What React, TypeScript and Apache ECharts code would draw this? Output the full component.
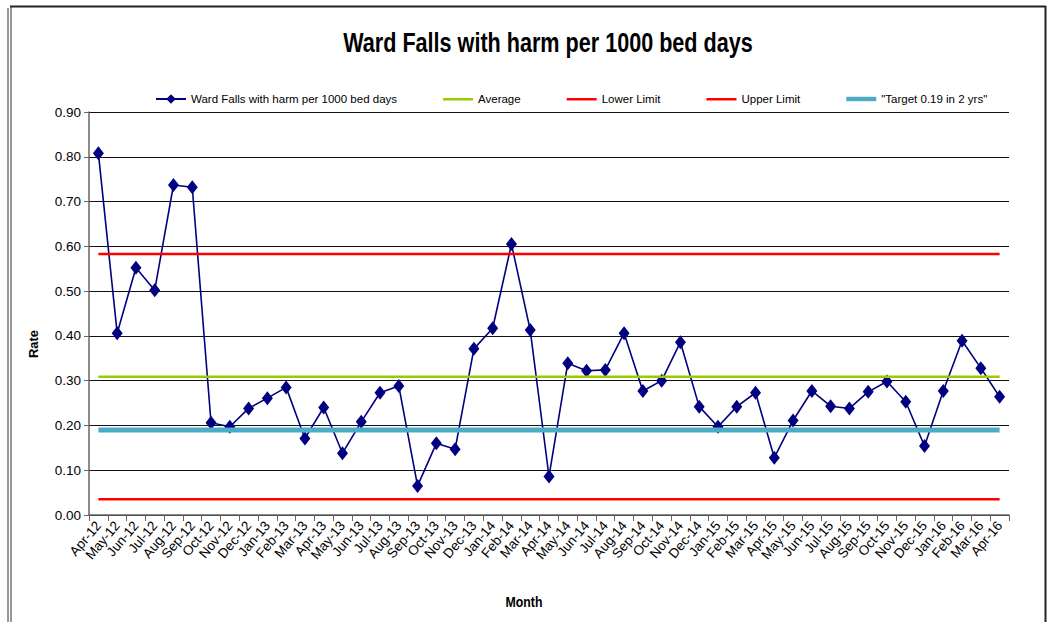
import React, { useEffect, useRef } from "react";
import * as echarts from "echarts";

const months = [
  "Apr-12","May-12","Jun-12","Jul-12","Aug-12","Sep-12","Oct-12","Nov-12","Dec-12",
  "Jan-13","Feb-13","Mar-13","Apr-13","May-13","Jun-13","Jul-13","Aug-13","Sep-13","Oct-13","Nov-13","Dec-13",
  "Jan-14","Feb-14","Mar-14","Apr-14","May-14","Jun-14","Jul-14","Aug-14","Sep-14","Oct-14","Nov-14","Dec-14",
  "Jan-15","Feb-15","Mar-15","Apr-15","May-15","Jun-15","Jul-15","Aug-15","Sep-15","Oct-15","Nov-15","Dec-15",
  "Jan-16","Feb-16","Mar-16","Apr-16",
];

const fallsRate = [
  0.808, 0.406, 0.552, 0.502, 0.737, 0.732, 0.206, 0.197, 0.238,
  0.261, 0.285, 0.171, 0.240, 0.138, 0.208, 0.273, 0.288, 0.065, 0.160, 0.147, 0.371,
  0.417, 0.605, 0.413, 0.086, 0.339, 0.322, 0.324, 0.406, 0.277, 0.300, 0.386, 0.242,
  0.197, 0.242, 0.273, 0.128, 0.211, 0.277, 0.243, 0.238, 0.275, 0.298, 0.253, 0.154,
  0.277, 0.389, 0.328, 0.264,
];

const averageValue = 0.309;
const lowerLimitValue = 0.035;
const upperLimitValue = 0.583;
const targetValue = 0.19;

const yTicks = { min: 0, max: 0.9, interval: 0.1 };

const SANS = "'Liberation Sans', Arial, sans-serif";

const SERIES_NAMES = {
  falls: "Ward Falls with harm per 1000 bed days",
  avg: "Average",
  lower: "Lower Limit",
  upper: "Upper Limit",
  target: '"Target 0.19 in 2 yrs"',
};

const thinBar = "path://M0,0 M0,5 L30,5 L30,7.5 L0,7.5 Z M30,12";
const thickBar = "path://M0,0 M0,3.5 L34,3.5 L34,8.5 L0,8.5 Z M34,12";

export default function App() {
  const ref = useRef<HTMLDivElement>(null);

  useEffect(() => {
    document.body.style.margin = "0";
    const chart = echarts.init(ref.current!, null, { renderer: "svg" });
    const flat = (v: number) => months.map(() => v);
    chart.setOption({
      animation: false,
      backgroundColor: "#ffffff",
      legend: {
        top: 88,
        left: 150,
        itemWidth: 30,
        itemHeight: 12,
        itemGap: 46,
        textStyle: { fontFamily: SANS, fontSize: 11.5, color: "#000" },
        data: [
          { name: SERIES_NAMES.falls },
          { name: SERIES_NAMES.avg, icon: thinBar },
          { name: SERIES_NAMES.lower, icon: thinBar },
          { name: SERIES_NAMES.upper, icon: thinBar },
          { name: SERIES_NAMES.target, icon: thickBar, itemWidth: 34 },
        ],
      },
      grid: { left: 89, right: 44, top: 112, bottom: 107, containLabel: false },
      xAxis: {
        type: "category",
        data: months,
        boundaryGap: true,
        axisLine: { lineStyle: { color: "#666", width: 1.5 } },
        axisTick: { show: true, interval: 0, length: 6, lineStyle: { color: "#666" } },
        axisLabel: {
          interval: 0,
          rotate: 50,
          fontFamily: SANS,
          fontSize: 13.5,
          color: "#000",
          margin: 8,
        },
        splitLine: { show: false },
      },
      yAxis: {
        type: "value",
        min: yTicks.min,
        max: yTicks.max,
        interval: yTicks.interval,
        axisLine: { show: true, lineStyle: { color: "#666", width: 1.5 } },
        axisTick: { show: true, length: 5, lineStyle: { color: "#666" } },
        axisLabel: {
          formatter: (v: number) => v.toFixed(2),
          fontFamily: SANS,
          fontSize: 13.5,
          color: "#000",
          margin: 8,
        },
        splitLine: { show: true, lineStyle: { color: "#111", width: 1.2 } },
      },
      series: [
        {
          name: SERIES_NAMES.falls,
          type: "line",
          data: fallsRate,
          symbol: "diamond",
          symbolSize: [11, 14],
          showAllSymbol: true,
          lineStyle: { color: "#000080", width: 1.6 },
          itemStyle: { color: "#000080" },
          z: 2,
        },
        {
          name: SERIES_NAMES.avg,
          type: "line",
          data: flat(averageValue),
          symbol: "none",
          lineStyle: { color: "#99CC00", width: 2.5 },
          itemStyle: { color: "#99CC00" },
          z: 3,
        },
        {
          name: SERIES_NAMES.lower,
          type: "line",
          data: flat(lowerLimitValue),
          symbol: "none",
          lineStyle: { color: "#FF0000", width: 2.5 },
          itemStyle: { color: "#FF0000" },
          z: 3,
        },
        {
          name: SERIES_NAMES.upper,
          type: "line",
          data: flat(upperLimitValue),
          symbol: "none",
          lineStyle: { color: "#FF0000", width: 2.5 },
          itemStyle: { color: "#FF0000" },
          z: 3,
        },
        {
          name: SERIES_NAMES.target,
          type: "line",
          data: flat(targetValue),
          symbol: "none",
          lineStyle: { color: "#4BACC6", width: 5 },
          itemStyle: { color: "#4BACC6" },
          z: 4,
        },
      ],
      graphic: [
        {
          type: "text",
          x: 548,
          y: 43,
          scaleX: 0.8,
          silent: true,
          style: {
            text: "Ward Falls with harm per 1000 bed days",
            x: 0,
            y: 0,
            align: "center",
            verticalAlign: "middle",
            fontFamily: SANS,
            fontSize: 27,
            fontWeight: "bold",
            fill: "#000",
          },
        },
        {
          type: "text",
          x: 524,
          y: 602,
          scaleX: 0.82,
          silent: true,
          style: {
            text: "Month",
            x: 0,
            y: 0,
            align: "center",
            verticalAlign: "middle",
            fontFamily: SANS,
            fontSize: 15,
            fontWeight: "bold",
            fill: "#000",
          },
        },
        {
          type: "text",
          x: 33,
          y: 344,
          rotation: Math.PI / 2,
          silent: true,
          style: {
            text: "Rate",
            x: 0,
            y: 0,
            align: "center",
            verticalAlign: "middle",
            fontFamily: SANS,
            fontSize: 13,
            fontWeight: "bold",
            fill: "#000",
          },
        },
        { type: "line", shape: { x1: 10, y1: 6.5, x2: 1046, y2: 6.5 }, style: { stroke: "#222", lineWidth: 2 }, silent: true },
        { type: "line", shape: { x1: 8, y1: 8, x2: 8, y2: 622 }, style: { stroke: "#333", lineWidth: 1 }, silent: true },
        { type: "line", shape: { x1: 11, y1: 6, x2: 11, y2: 622 }, style: { stroke: "#333", lineWidth: 1 }, silent: true },
        { type: "line", shape: { x1: 1045.5, y1: 6, x2: 1045.5, y2: 622 }, style: { stroke: "#222", lineWidth: 2 }, silent: true },
      ],
    });
    return () => chart.dispose();
  }, []);

  return (
    <div
      ref={ref}
      style={{ position: "fixed", left: 0, top: 0, width: 1053, height: 622 }}
    />
  );
}
